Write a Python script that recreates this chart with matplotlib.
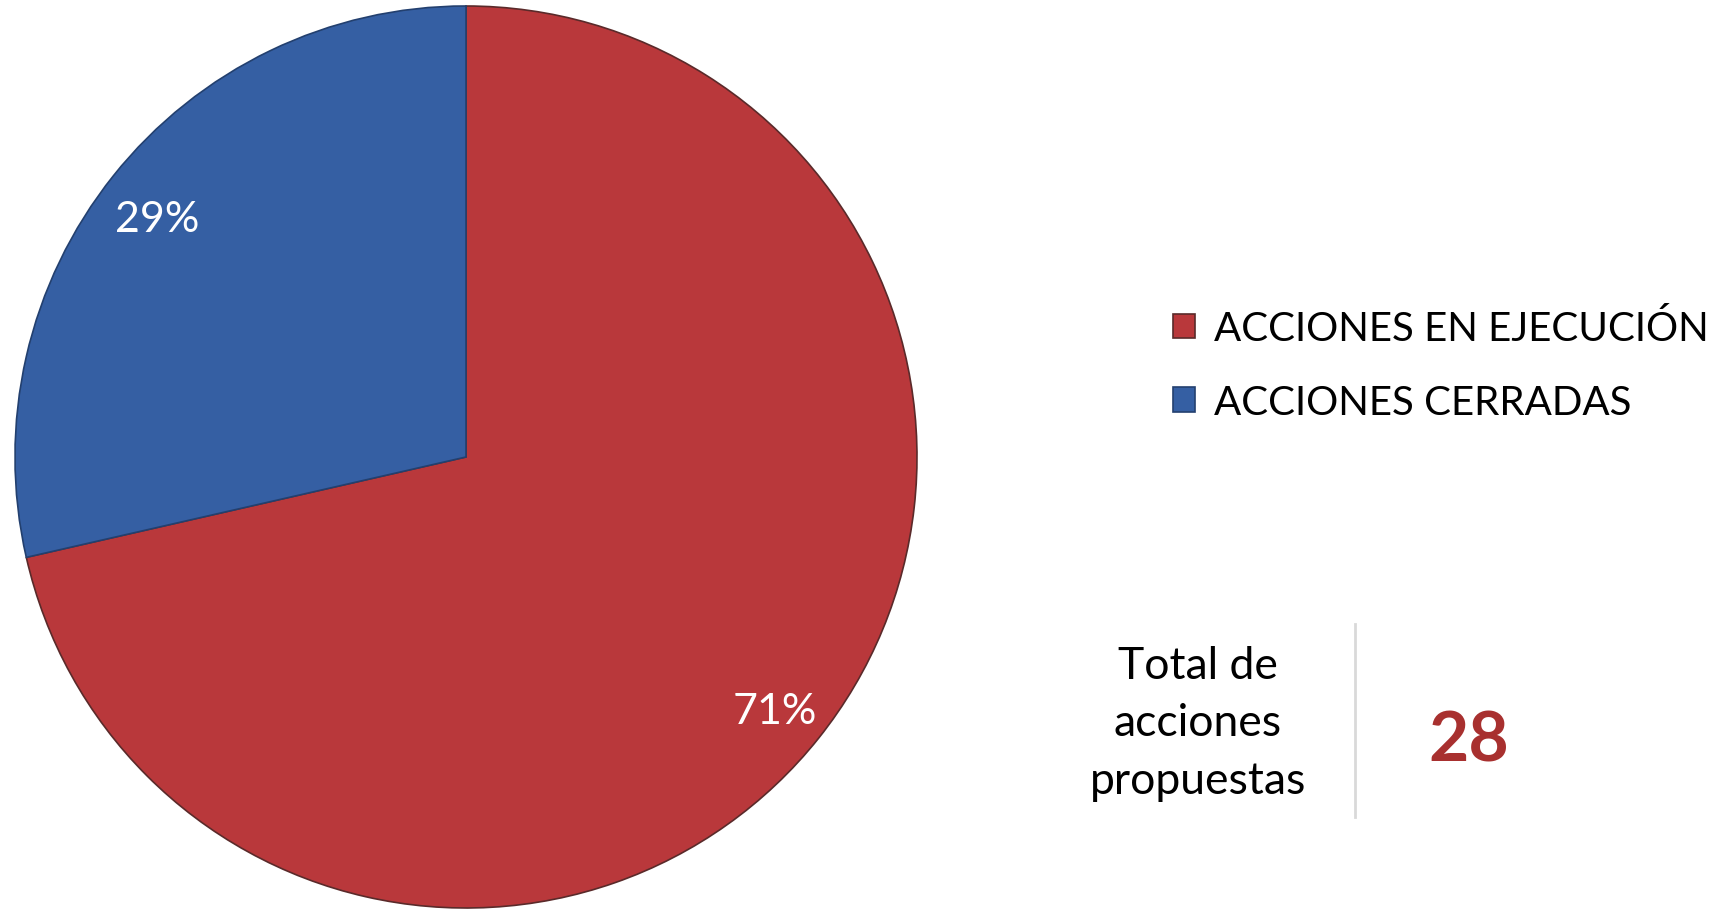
import matplotlib.pyplot as plt

labels = ['ACCIONES EN EJECUCIÓN', 'ACCIONES CERRADAS']
counts = [20, 8]
colors = ['#B9383B', '#355FA3']
total_label = 'Total de\nacciones\npropuestas'

W, H = 1718, 912
fig = plt.figure(figsize=(W / 100, H / 100), dpi=100)
ax = fig.add_axes([0, 0, 1, 1])

wedges, texts, autotexts = ax.pie(
    counts, colors=colors, startangle=90, counterclock=False,
    center=(466, H - 458), radius=451, autopct='%.0f%%', pctdistance=0.875,
    wedgeprops=dict(edgecolor='#5a2a2a', linewidth=1.2),
    textprops=dict(color='white', fontsize=31, family='Lato'))
wedges[1].set_edgecolor('#23406f')
for t in autotexts:
    t.set_y(t.get_position()[1] - 8)

ax.set_xlim(0, W)
ax.set_ylim(0, H)
ax.set_aspect('auto')
ax.axis('off')

ax.legend(wedges, labels, loc='center left', bbox_to_anchor=(1137 / W, 1 - 366 / H),
          frameon=False, prop=dict(family='Lato', size=29), handlelength=0.55,
          handleheight=0.55, handletextpad=0.45, labelspacing=0.9,
          bbox_transform=fig.transFigure)

fig.text(1198 / W, 1 - 724 / H, total_label, ha='center', va='center',
         family='Lato', fontsize=32, linespacing=1.5)
fig.text(1469 / W, 1 - 742 / H, str(sum(counts)), ha='center', va='center',
         family='Lato', fontsize=50, fontweight='bold', color='#A8302F')
ax.plot([1355, 1355], [H - 625, H - 818], color='#d9d9d9', linewidth=2)

fig.savefig('out.png', dpi=100)
